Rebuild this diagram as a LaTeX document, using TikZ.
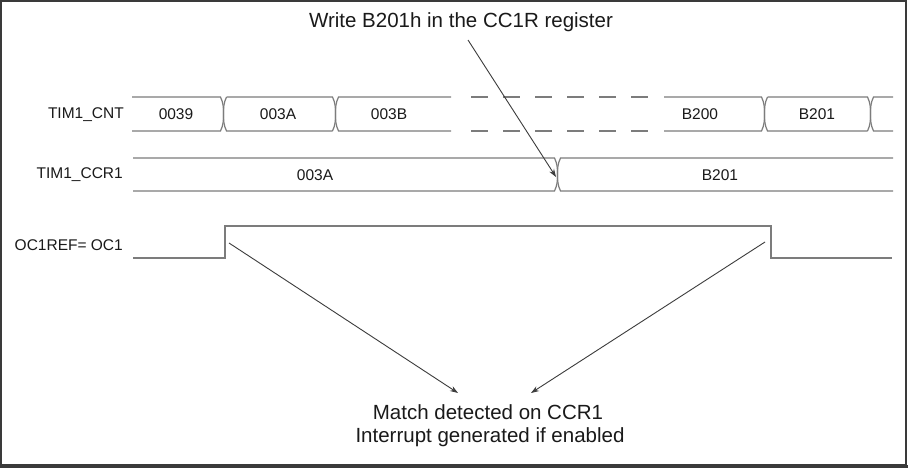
\documentclass[tikz,border=0pt]{standalone}
\usepackage{fontspec}
\setmainfont{Liberation Sans}
\usetikzlibrary{arrows.meta}
\definecolor{wave}{HTML}{7C7C7C}
\definecolor{arr}{HTML}{3C3C3C}
\definecolor{framec}{HTML}{3A3A3A}
\definecolor{txt}{HTML}{1A1A1A}
\tikzset{
 bus/.style={draw=wave,line width=1.2pt},
 dashbus/.style={draw=wave,line width=1.2pt,dash pattern=on 17pt off 15pt},
 level/.style={draw=wave,line width=2pt},
 ptr/.style={draw=arr,line width=0.9pt,-{Stealth[length=8pt,width=5.5pt]}},
 siglabel/.style={anchor=east,font=\fontsize{15.5}{18}\selectfont,text=txt,inner sep=0pt},
 val/.style={font=\fontsize{15.5}{18}\selectfont,inner sep=0pt,text=txt},
 note/.style={font=\fontsize{20.5}{24}\selectfont,inner sep=0pt,text=txt},
 rdn/.style={out=-65,in=90}, rup/.style={out=-90,in=65},
 ldn/.style={out=-115,in=90}, lup/.style={out=-90,in=115},
}
\begin{document}
\begin{tikzpicture}[x=1pt,y=-1pt]
\useasboundingbox (0,0) rectangle (910,470);
\fill[white] (0,0) rectangle (910,470);
\draw[framec,line width=2pt] (1,1) rectangle (906,465);
\draw[framec,line width=3pt] (0,466) -- (907.5,466);

% signal labels
\node[siglabel] (lcnt) at (124,115) {TIM1\_CNT};
\node[siglabel] (lccr) at (123,175) {TIM1\_CCR1};
\node[siglabel] (loc) at (123,245) {OC1REF= OC1};

% TIM1_CNT bus
\draw[bus] (132,97) -- (220.5,97) to[rdn] (223.5,114) to[rup] (220.5,131) -- (132,131);
\draw[bus] (226.5,97) to[ldn] (223.5,114) to[lup] (226.5,131) -- (332.5,131);
\draw[bus] (226.5,97) -- (332.5,97) to[rdn] (335.5,114) to[rup] (332.5,131);
\draw[bus] (451,97) -- (338.5,97) to[ldn] (335.5,114) to[lup] (338.5,131) -- (451,131);
\draw[dashbus] (471,97) -- (652,97);
\draw[dashbus] (471,131) -- (652,131);
\draw[bus] (664,97) -- (761.5,97) to[rdn] (764.5,114) to[rup] (761.5,131) -- (664,131);
\draw[bus] (767.5,97) to[ldn] (764.5,114) to[lup] (767.5,131) -- (867.5,131);
\draw[bus] (767.5,97) -- (867.5,97) to[rdn] (870.5,114) to[rup] (867.5,131);
\draw[bus] (893,97) -- (873.5,97) to[ldn] (870.5,114) to[lup] (873.5,131) -- (893,131);
\node[val] (c1) at (176,114) {0039};
\node[val] (c2) at (278,114) {003A};
\node[val] (c3) at (389,114) {003B};
\node[val] (c4) at (700,114) {B200};
\node[val] (c5) at (817,114) {B201};

% TIM1_CCR1 bus
\draw[bus] (133,158) -- (554.5,158) to[rdn] (557.5,174.5) to[rup] (554.5,191) -- (133,191);
\draw[bus] (893,158) -- (560.5,158) to[ldn] (557.5,174.5) to[lup] (560.5,191) -- (893,191);
\node[val] (r1) at (315,175) {003A};
\node[val] (r2) at (720,175) {B201};

% OC1REF
\draw[level] (133,258) -- (225,258) -- (225,226) -- (771,226) -- (771,258) -- (892,258);

% notes and arrows
\node[note] (title) at (461,22) {Write B201h in the CC1R register};
\node[note] (match) at (488,412) {Match detected on CCR1};
\node[note] (intr) at (490,437) {Interrupt generated if enabled};
\coordinate (ws) at (468,40);
\coordinate (we) at (556,177);
\coordinate (ma) at (229,243);
\coordinate (mb) at (765,242);
\coordinate (ta) at (458,393);
\coordinate (tb) at (531,393);
\draw[ptr] (ws) -- (we);
\draw[ptr] (ma) -- (ta);
\draw[ptr] (mb) -- (tb);
\end{tikzpicture}
\end{document}
